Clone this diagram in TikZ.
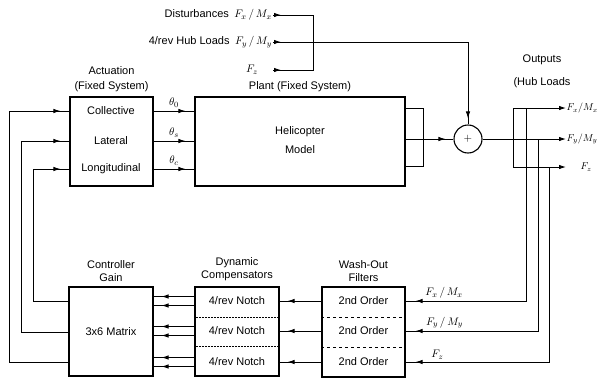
\documentclass[tikz,border=0pt]{standalone}
\usepackage{fontspec}
\setmainfont{Liberation Sans}
\usetikzlibrary{arrows.meta,positioning,decorations.markings}

\newcommand{\fmpair}[1]{$F_{#1}\,/\,M_{#1}$}

\begin{document}
\begin{tikzpicture}[x=1pt, y=-1pt,
  every node/.style={font=\fontsize{11}{13}\selectfont, inner sep=1pt},
  block/.style={rectangle, draw, line width=1.1pt, minimum width=84pt, minimum height=89pt},
  head/.style={align=center, inner sep=0pt},
  link/.style={line width=0.9pt},
  arrow/.style={link, -{Latex[length=7pt, width=4.5pt]}},
  tipat/.style={link, postaction={decorate},
    decoration={markings, mark=at position #1 with {\arrow{Latex[length=7pt, width=4.5pt]}}}},
  divider/.style={line width=0.5pt, densely dotted},
  outlab/.style={anchor=west, inner sep=0.5pt, font=\fontsize{10}{12}\selectfont}
]
\useasboundingbox (0,0) rectangle (603,378);

% blocks
\node[block, minimum width=83pt] (act) at (111.5,141.5) {};
\node[block, minimum width=210pt] (plant) at (300,141.5) {};
\node[circle, draw, line width=1.1pt, minimum size=28pt, inner sep=0pt] (sum) at (468,139) {$+$};
\node[block] (ctrl) at (111,331.5) {};
\node[block] (comp) at (237,331.5) {};
\node[block, minimum width=83pt, minimum height=90pt] (filt) at (363.5,332) {};

% headings
\node[head, above=4pt of act] {Actuation\\[2pt](Fixed System)};
\node[head, above=4pt of plant] {Plant (Fixed System)};
\node[head, above=5pt of ctrl] {Controller\\Gain};
\node[head, above=5pt of comp] {Dynamic\\Compensators};
\node[head, above=5pt of filt] {Wash-Out\\Filters};
\node[head] (outlbl) at (542,71) {Outputs\\[10pt](Hub Loads};

% block contents
\node (coll) at (111,111) {Collective};
\node (lat) at (111,141) {Lateral};
\node (long) at (111,169) {Longitudinal};
\node (heli) at (300,132) {Helicopter};
\node (model) at (300,150) {Model};
\node (gain) at (111,332) {3x6 Matrix};
\foreach \i/\y in {1/301, 2/331, 3/362} {
  \node (notch\i) at (237,\y) {4/rev Notch};
  \node (order\i) at (363.5,\y) {2nd Order};
}
\draw[divider] (comp.west |- 0,317) -- (comp.east |- 0,317);
\draw[divider] (comp.west |- 0,346) -- (comp.east |- 0,346);
\draw[line width=0.5pt, dashed] (filt.west |- 0,317) -- (filt.east |- 0,317);
\draw[line width=0.5pt, dashed] (filt.west |- 0,347) -- (filt.east |- 0,347);

% actuation -> plant
\foreach \r/\s in {coll/0, lat/s, long/c}
  \draw[tipat=-9pt] (act.east |- \r) -- (plant.west |- \r)
    node[midway, above=2pt] {$\theta_\s$};

% plant -> summing junction
\draw[link] (plant.east |- 0,108) -| (423,166) -- (plant.east |- 0,166);
\draw[tipat=-8pt] (plant.east |- sum) -- (sum.west);

% 4/rev inputs
\node[anchor=east] (dist) at (273,15) {Disturbances\enspace\fmpair{x}};
\node[anchor=east] (hub) at (273,42) {4/rev Hub Loads\enspace\fmpair{y}};
\node (fz) at (252,70) {$F_z$};
\coordinate (join) at (313,42);
\coordinate (fzstart) at (273,70);
\draw[tipat=8pt] (dist.east) -| (join);
\draw[tipat=8pt] (fzstart) -| (join);
\draw[tipat=8pt] (hub.east) -- (sum.north |- hub.east);
\draw[tipat=-6pt] (sum.north |- hub.east) -- (sum.north);

% outputs
\node[outlab] (ofx) at (566,108) {$F_x/M_x$};
\node[outlab] (ofy) at (566,139) {$F_y/M_y$};
\node[outlab] (ofz) at (580,167) {$F_z$};
\coordinate (split) at (513,139);
\coordinate (fzend) at (566,167);
\draw[arrow] (sum.east) -- (ofy.west);
\draw[arrow] (split) |- (ofx.west);
\draw[arrow] (split) |- (fzend);

% feedback to wash-out filters
\coordinate (tap1) at (526,108);
\coordinate (tap2) at (538,139);
\coordinate (tap3) at (549,167);
\draw[tipat=-10pt] (tap1) |- (filt.east |- order1) node[pos=0.84, above=1pt] {\fmpair{x}};
\draw[tipat=-10pt] (tap2) |- (filt.east |- order2) node[pos=0.853, above=1pt] {\fmpair{y}};
\draw[tipat=-10pt] (tap3) |- (filt.east |- order3) node[pos=0.889, above=1pt] {$F_z$};

% filters -> compensators
\foreach \i in {1,2,3}
  \draw[tipat=-8pt] (filt.west |- order\i) -- (comp.east |- notch\i);

% compensators -> gain
\foreach \i in {1,2,3}
  \foreach \d in {-4.5,4.5}
    \draw[tipat=-8pt] ([yshift=\d pt]comp.west |- notch\i) -- ([yshift=\d pt]ctrl.east |- notch\i);

% gain -> actuation
\draw[tipat=-9pt] (ctrl.west |- notch3) -- ++(-59,0) |- (act.west |- coll);
\draw[tipat=-9pt] (ctrl.west |- gain) -- ++(-47,0) |- (act.west |- lat);
\draw[tipat=-9pt] (ctrl.west |- notch1) -- ++(-35,0) |- (act.west |- long);
\end{tikzpicture}
\end{document}
